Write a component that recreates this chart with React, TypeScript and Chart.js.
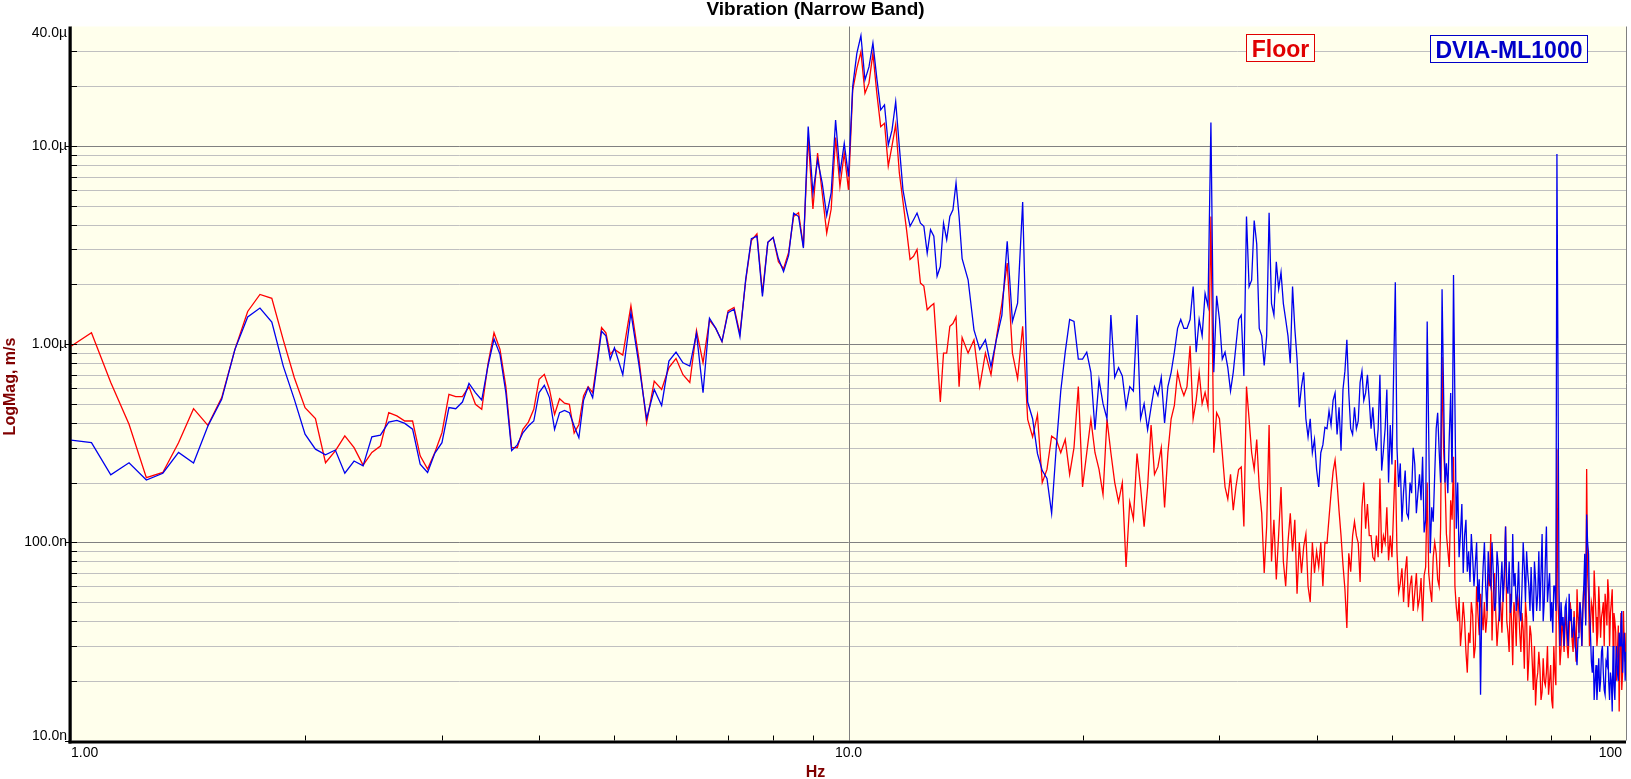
import { useEffect, useRef } from "react"
import { Chart, registerables } from "chart.js"

Chart.register(...registerables)

// FFT bin frequencies (Hz). Full 1/16 Hz resolution at the low end, thinned out higher up.
const hzA = [
  1, 1.0625, 1.125, 1.1875, 1.25, 1.3125, 1.375, 1.4375, 1.5, 1.5625, 1.625, 1.6875, 1.75, 1.8125, 1.875, 1.9375,
  2, 2.0625, 2.125, 2.1875, 2.25, 2.3125, 2.375, 2.4375, 2.5, 2.5625, 2.625, 2.6875, 2.75, 2.8125, 2.875, 2.9375,
  3, 3.0625, 3.125, 3.1875, 3.25, 3.3125, 3.375, 3.4375, 3.5, 3.5625, 3.625, 3.6875, 3.75, 3.8125, 3.875, 3.9375,
  4, 4.0625, 4.125, 4.1875, 4.25, 4.3125, 4.375, 4.4375, 4.5, 4.5625, 4.625, 4.6875, 4.75, 4.8125, 4.875, 4.9375,
  5,
]
const hzB = [
  5.125, 5.25, 5.375, 5.5, 5.625, 5.75, 5.875, 6, 6.125, 6.25, 6.375, 6.5, 6.625, 6.75, 6.875, 7,
  7.125, 7.25, 7.375, 7.5, 7.625, 7.75, 7.875, 8, 8.125, 8.25, 8.375, 8.5, 8.625, 8.75, 8.875, 9,
  9.125, 9.25, 9.375, 9.5, 9.625, 9.75, 9.875, 10,
]
const hzC = [
  10.125, 10.25, 10.375, 10.5, 10.625, 10.75, 10.875, 11, 11.125, 11.25, 11.375, 11.5, 11.625, 11.75, 11.875, 12,
  12.125, 12.25, 12.375, 12.5, 12.625, 12.75, 12.875, 13, 13.125, 13.25, 13.375, 13.5, 13.625, 13.75, 13.875, 14,
]
const hzD = [
  14.25, 14.5, 14.75, 15, 15.25, 15.5, 15.75, 16,
  16.25, 16.5, 16.75, 17, 17.25, 17.5, 17.75, 18,
  18.25, 18.5, 18.75, 19, 19.25, 19.5, 19.75, 20,
  20.25, 20.5, 20.75, 21, 21.25, 21.5, 21.75, 22,
  22.25, 22.5, 22.75, 23, 23.25, 23.5, 23.75, 24,
  24.25, 24.5, 24.75, 25, 25.25, 25.5, 25.75, 26,
  26.25, 26.5, 26.75, 27, 27.25, 27.5, 27.75, 28,
  28.25, 28.5, 28.75, 29, 29.25, 29.5, 29.75, 30,
  30.25, 30.5, 30.75, 31, 31.25, 31.5, 31.75, 32,
  32.25, 32.5, 32.75, 33, 33.25, 33.5, 33.75, 34,
  34.25, 34.5, 34.75, 35, 35.25, 35.5, 35.75, 36,
  36.25, 36.5, 36.75, 37, 37.25, 37.5, 37.75, 38,
  38.25, 38.5, 38.75, 39, 39.25, 39.5, 39.75, 40,
  40.25, 40.5, 40.75, 41, 41.25, 41.5, 41.75, 42,
  42.25, 42.5, 42.75, 43, 43.25, 43.5, 43.75, 44,
  44.25, 44.5, 44.75, 45, 45.25, 45.5, 45.75, 46,
  46.25, 46.5, 46.75, 47, 47.25, 47.5, 47.75, 48,
  48.25, 48.5, 48.75, 49, 49.25, 49.5, 49.75, 50,
]
const hzE = [
  50.5, 51, 51.5, 52, 52.5, 53, 53.5, 54, 54.5, 55,
  55.5, 56, 56.5, 57, 57.5, 58, 58.5, 59, 59.5, 60,
  60.5, 61, 61.5, 62, 62.5, 63, 63.5, 64, 64.5, 65,
  65.5, 66, 66.5, 67, 67.5, 68, 68.5, 69, 69.5, 70,
  70.5, 71, 71.5, 72, 72.5, 73, 73.5, 74, 74.5, 75,
  75.5, 76, 76.5, 77, 77.5, 78, 78.5, 79, 79.5, 80,
  80.5, 81, 81.5, 82, 82.5, 83, 83.5, 84, 84.5, 85,
  85.5, 86, 86.5, 87, 87.5, 88, 88.5, 89, 89.5, 90,
  90.5, 91, 91.5, 92, 92.5, 93, 93.5, 94, 94.5, 95,
  95.5, 96, 96.5, 97, 97.5, 98, 98.5, 99, 99.5, 100,
]
// in-between bins for the top of the band
const hzF = [
  50.75, 51.25, 51.75, 52.25, 52.75, 53.25, 53.75, 54.25, 54.75, 55.25,
  55.75, 56.25, 56.75, 57.25, 57.75, 58.25, 58.75, 59.25, 59.75, 60.25,
  60.75, 61.25, 61.75, 62.25, 62.75, 63.25, 63.75, 64.25, 64.75, 65.25,
  65.75, 66.25, 66.75, 67.25, 67.75, 68.25, 68.75, 69.25, 69.75, 70.25,
  70.75, 71.25, 71.75, 72.25, 72.75, 73.25, 73.75, 74.25, 74.75, 75.25,
  75.75, 76.25, 76.75, 77.25, 77.75, 78.25, 78.75, 79.25, 79.75, 80.25,
  80.75, 81.25, 81.75, 82.25, 82.75, 83.25, 83.75, 84.25, 84.75, 85.25,
  85.75, 86.25, 86.75, 87.25, 87.75, 88.25, 88.75, 89.25, 89.75, 90.25,
  90.75, 91.25, 91.75, 92.25, 92.75, 93.25, 93.75, 94.25, 94.75, 95.25,
  95.75, 96.25, 96.75, 97.25, 97.75, 98.25, 98.75, 99.25, 99.75,
]

// Floor magnitude, um/s
const floorA = [
  0.976, 1.14, 0.64, 0.394, 0.212, 0.225, 0.318, 0.472, 0.389, 0.537, 0.94, 1.46, 1.78, 1.7, 1.05, 0.676,
  0.478, 0.421, 0.252, 0.289, 0.344, 0.3, 0.245, 0.284, 0.306, 0.451, 0.434, 0.409, 0.409, 0.273, 0.234, 0.284,
  0.357, 0.557, 0.543, 0.543, 0.61, 0.497, 0.469, 0.79, 1.14, 0.94, 0.61, 0.3, 0.3, 0.371, 0.404, 0.469,
  0.664, 0.703, 0.59, 0.442, 0.53, 0.503, 0.497, 0.356, 0.393, 0.547, 0.61, 0.569, 0.82, 1.21, 1.14, 0.887,
  0.94,
]
const floorB = [
  0.88, 1.56, 0.845, 0.4, 0.65, 0.59, 0.76, 0.845, 0.7, 0.64, 1.17, 0.805, 1.32, 1.2, 1.03, 1.47,
  1.53, 1.13, 2.08, 3.33, 3.6, 1.81, 3.26, 3.45, 2.6, 2.4, 2.9, 4.4, 4.6, 3.1, 11.0, 4.8,
  9.2, 5.8, 3.63, 4.8, 11.0, 6.24, 9.2, 6.0,
]
const floorC = [
  19.1, 24.6, 29.8, 18.4, 20.7, 29.3, 18.4, 12.5, 13.0, 7.9, 10, 12.8, 7.3, 5.25, 3.78, 2.67,
  2.77, 3.0, 2.03, 1.96, 1.49, 1.55, 1.6, 0.9, 0.51, 0.9, 0.9, 1.23, 1.27, 1.37, 0.61, 1.08,
]
const floorD = [
  0.9, 1.05, 0.61, 0.9, 0.7, 1.08, 1.6, 2.56,
  0.9, 0.67, 1.23, 0.417, 0.34, 0.44, 0.2, 0.233,
  0.343, 0.33, 0.283, 0.33, 0.22, 0.3, 0.61, 0.19,
  0.283, 0.417, 0.283, 0.233, 0.174, 0.417, 0.283, 0.2,
  0.16, 0.2, 0.075, 0.16, 0.131, 0.28, 0.19, 0.12,
  0.19, 0.39, 0.22, 0.24, 0.3, 0.15, 0.283, 0.42,
  0.49, 0.72, 0.61, 0.55, 0.61, 0.98, 0.42, 0.52,
  0.72, 0.5, 0.57, 0.48, 4.4, 0.283, 0.45, 0.42,
  0.283, 0.19, 0.165, 0.22, 0.145, 0.19, 0.233, 0.24,
  0.12, 0.61, 0.42, 0.283, 0.233, 0.33, 0.19, 0.14,
  0.07, 0.12, 0.39, 0.08, 0.13, 0.065, 0.11, 0.19,
  0.08, 0.06, 0.1, 0.14, 0.09, 0.13, 0.055, 0.1,
  0.07, 0.095, 0.11, 0.06, 0.05, 0.1, 0.07, 0.09,
  0.075, 0.1, 0.06, 0.1, 0.099, 0.133, 0.177, 0.227,
  0.26, 0.2, 0.144, 0.108, 0.077, 0.058, 0.037, 0.088,
  0.071, 0.108, 0.127, 0.108, 0.099, 0.063, 0.15, 0.2,
  0.117, 0.156, 0.108, 0.108, 0.084, 0.081, 0.108, 0.084,
  0.21, 0.088, 0.108, 0.099, 0.15, 0.081, 0.108, 0.084,
]
const floorE = [
  0.26, 0.056, 0.074, 0.071, 0.047, 0.068, 0.056, 0.047, 0.066, 0.068,
  0.2, 0.058, 0.084, 0.088, 0.06, 0.86, 0.21, 0.091, 0.163, 0.27,
  0.047, 0.053, 0.037, 0.04, 0.022, 0.031, 0.043, 0.03, 0.044, 0.055,
  0.036, 0.035, 0.07, 0.11, 0.055, 0.044, 0.038, 0.05, 0.055, 0.12,
  0.035, 0.055, 0.024, 0.044, 0.055, 0.035, 0.044, 0.023, 0.042, 0.026,
  0.034, 0.018, 0.015, 0.022, 0.023, 0.0176, 0.02, 0.022, 0.017, 0.024,
  0.0145, 0.022, 0.295, 0.038, 0.029, 0.035, 0.038, 0.03, 0.035, 0.044,
  0.028, 0.035, 0.058, 0.035, 0.038, 0.046, 0.055, 0.234, 0.055, 0.038,
  0.047, 0.072, 0.042, 0.035, 0.046, 0.042, 0.05, 0.055, 0.038, 0.055,
  0.044, 0.058, 0.044, 0.035, 0.028, 0.014, 0.044, 0.022, 0.029, 0.035,
]
const floorF = [
  0.09, 0.062, 0.05, 0.085, 0.06, 0.045, 0.07, 0.052, 0.04, 0.075,
  0.07, 0.05, 0.1, 0.065, 0.12, 0.3, 0.11, 0.075, 0.13, 0.06,
  0.04, 0.03, 0.05, 0.028, 0.035, 0.05, 0.026, 0.06, 0.034, 0.045,
  0.05, 0.042, 0.06, 0.032, 0.07, 0.03, 0.045, 0.035, 0.065, 0.04,
  0.028, 0.04, 0.05, 0.03, 0.048, 0.028, 0.036, 0.05, 0.02, 0.038,
  0.025, 0.03, 0.02, 0.028, 0.016, 0.026, 0.019, 0.03, 0.02, 0.016,
  0.03, 0.019, 0.05, 0.024, 0.042, 0.028, 0.045, 0.026, 0.05, 0.032,
  0.045, 0.025, 0.042, 0.05, 0.03, 0.06, 0.04, 0.07, 0.03, 0.05,
  0.035, 0.055, 0.03, 0.06, 0.033, 0.045, 0.03, 0.048, 0.065, 0.03,
  0.05, 0.03, 0.04, 0.02, 0.038, 0.03, 0.018, 0.045, 0.025,
]

// DVIA-ML1000 magnitude, um/s
const dviaA = [
  0.328, 0.318, 0.219, 0.252, 0.206, 0.223, 0.284, 0.251, 0.386, 0.526, 0.94, 1.37, 1.52, 1.29, 0.774, 0.526,
  0.351, 0.295, 0.276, 0.292, 0.223, 0.257, 0.243, 0.34, 0.347, 0.404, 0.412, 0.398, 0.372, 0.248, 0.225, 0.282,
  0.318, 0.478, 0.472, 0.51, 0.633, 0.569, 0.522, 0.774, 1.06, 0.887, 0.569, 0.29, 0.31, 0.357, 0.386, 0.409,
  0.569, 0.619, 0.537, 0.371, 0.451, 0.463, 0.451, 0.386, 0.337, 0.52, 0.603, 0.537, 0.79, 1.16, 1.1, 0.836,
  0.958,
]
const dviaB = [
  0.7, 1.44, 0.79, 0.42, 0.59, 0.49, 0.82, 0.91, 0.805, 0.774, 1.13, 0.569, 1.35, 1.2, 1.03, 1.44,
  1.5, 1.09, 2.12, 3.4, 3.5, 1.74, 3.26, 3.45, 2.7, 2.32, 2.8, 4.58, 4.4, 3.05, 12.5, 5.78,
  8.5, 6.5, 4.45, 5.8, 13.5, 7.28, 10.3, 7.0,
]
const dviaC = [
  19.9, 29.3, 36, 21.5, 25, 33, 21.9, 15.2, 16.1, 10.1, 12.0, 16.7, 9.9, 6.0, 4.76, 3.93,
  4.24, 4.58, 4.07, 3.93, 2.88, 3.78, 3.5, 2.2, 2.46, 4.07, 3.36, 4.4, 4.76, 6.5, 4.4, 2.7,
]
const dviaD = [
  2.11, 1.18, 0.94, 1.05, 0.77, 1.06, 1.4, 3.3,
  1.3, 1.61, 5.2, 0.51, 0.42, 0.28, 0.23, 0.21,
  0.14, 0.3, 0.58, 0.91, 1.33, 1.3, 0.84, 0.84,
  0.91, 0.72, 0.37, 0.66, 0.5, 0.42, 1.4, 0.68,
  0.76, 0.69, 0.48, 0.61, 0.58, 1.4, 0.42, 0.5,
  0.37, 0.48, 0.61, 0.55, 0.68, 0.4, 0.61, 0.72,
  0.91, 1.2, 1.33, 1.2, 1.2, 1.33, 1.95, 0.91,
  1.33, 1.1, 1.8, 1.55, 13.1, 0.72, 1.75, 1.33,
  0.84, 0.91, 0.76, 0.58, 0.72, 0.98, 1.33, 1.4,
  0.69, 4.4, 1.95, 2.1, 4.2, 3.2, 1.2, 1.1,
  0.78, 1.1, 4.6, 1.6, 1.4, 2.6, 1.9, 2.3,
  1.6, 1.33, 1.1, 0.8, 1.95, 1.2, 0.84, 0.48,
  0.61, 0.72, 0.42, 0.34, 0.42, 0.283, 0.33, 0.233,
  0.19, 0.283, 0.31, 0.38, 0.374, 0.46, 0.39, 0.52,
  0.567, 0.35, 0.48, 0.29, 0.59, 0.73, 1.05, 0.567,
  0.374, 0.35, 0.48, 0.374, 0.41, 0.64, 0.73, 0.52,
  0.567, 0.7, 0.52, 0.374, 0.48, 0.35, 0.29, 0.374,
  0.7, 0.23, 0.29, 0.374, 0.59, 0.2, 0.39, 0.247,
]
const dviaE = [
  2.05, 0.19, 0.127, 0.23, 0.133, 0.177, 0.247, 0.177, 0.163, 0.112,
  1.3, 0.088, 0.127, 0.374, 0.29, 1.89, 0.2, 0.177, 0.567, 2.23,
  0.117, 0.084, 0.156, 0.108, 0.071, 0.063, 0.084, 0.077, 0.05, 0.017,
  0.075, 0.06, 0.09, 0.06, 0.07, 0.05, 0.075, 0.06, 0.05, 0.12,
  0.055, 0.044, 0.11, 0.07, 0.055, 0.045, 0.06, 0.075, 0.09, 0.06,
  0.075, 0.04, 0.065, 0.055, 0.045, 0.11, 0.05, 0.12, 0.06, 0.04,
  0.035, 0.06, 9.1, 0.06, 0.05, 0.042, 0.047, 0.035, 0.055, 0.046,
  0.036, 0.03, 0.024, 0.038, 0.044, 0.046, 0.0875, 0.138, 0.0875, 0.035,
  0.022, 0.016, 0.024, 0.02, 0.0176, 0.028, 0.022, 0.017, 0.024, 0.02,
  0.022, 0.014, 0.019, 0.024, 0.022, 0.035, 0.038, 0.022, 0.035, 0.028,
]
const dviaF = [
  0.3, 0.25, 0.18, 0.14, 0.2, 0.3, 0.14, 0.22, 0.27, 0.13,
  0.35, 0.15, 0.22, 0.45, 0.2, 0.6, 0.25, 0.34, 0.2, 0.5,
  0.2, 0.11, 0.07, 0.13, 0.09, 0.11, 0.06, 0.1, 0.065, 0.05,
  0.1, 0.045, 0.065, 0.1, 0.045, 0.09, 0.04, 0.08, 0.07, 0.06,
  0.08, 0.05, 0.06, 0.045, 0.08, 0.04, 0.1, 0.05, 0.07, 0.045,
  0.05, 0.08, 0.045, 0.09, 0.07, 0.04, 0.08, 0.05, 0.07, 0.05,
  0.06, 0.045, 0.8, 0.03, 0.038, 0.03, 0.05, 0.03, 0.04, 0.033,
  0.042, 0.028, 0.033, 0.05, 0.03, 0.06, 0.038, 0.1, 0.045, 0.025,
  0.03, 0.02, 0.016, 0.026, 0.02, 0.03, 0.018, 0.025, 0.03, 0.016,
  0.02, 0.03, 0.016, 0.03, 0.02, 0.03, 0.045, 0.03, 0.02,
]

const allHz = [...hzA, ...hzB, ...hzC, ...hzD, ...hzE, ...hzF]
const floorMag = [...floorA, ...floorB, ...floorC, ...floorD, ...floorE, ...floorF]
const dviaMag = [...dviaA, ...dviaB, ...dviaC, ...dviaD, ...dviaE, ...dviaF]
// bins in ascending frequency order
const order = allHz.map((_, i) => i).sort((a, b) => allHz[a] - allHz[b])

const xTicks = [1, 10, 100]
const xTickLabels = ["1.00", "10.0", "100"]
const yTicks = [40, 10, 1, 0.1, 0.01]
const yTickLabels = ["40.0µ", "10.0µ", "1.00µ", "100.0n", "10.0n"]

const FONT = "'Liberation Sans', Arial, sans-serif"
const RED = "#ff0000"
const BLUE = "#0000ee"
const AXIS_TITLE = "#800000"

const decorPlugin = {
  id: "decor",
  beforeDraw(chart: Chart) {
    const { ctx, chartArea: a } = chart
    const xs = chart.scales.x
    const ys = chart.scales.y
    ctx.save()
    ctx.fillStyle = "#ffffec"
    ctx.fillRect(a.left, a.top, a.right - a.left, a.bottom - a.top)
    ctx.lineWidth = 1
    // horizontal grid: every 1..9 step of each decade
    for (const d of [0.01, 0.1, 1, 10]) {
      for (let m = 1; m <= 9; m++) {
        const v = d * m
        if (v >= 40) break
        const py = Math.round(ys.getPixelForValue(v)) + 0.5
        ctx.strokeStyle = m === 1 ? "#808080" : "#c0c0c0"
        ctx.beginPath()
        ctx.moveTo(a.left, py)
        ctx.lineTo(a.right, py)
        ctx.stroke()
      }
    }
    // vertical grid only at the decades
    ctx.strokeStyle = "#808080"
    for (const v of xTicks) {
      const px = Math.round(xs.getPixelForValue(v)) + 0.5
      ctx.beginPath()
      ctx.moveTo(px, a.top)
      ctx.lineTo(px, a.bottom)
      ctx.stroke()
    }
    ctx.restore()
  },
  afterDraw(chart: Chart) {
    const { ctx, chartArea: a, width } = chart
    const xs = chart.scales.x
    const ys = chart.scales.y
    ctx.save()

    // axis lines
    ctx.fillStyle = "#000"
    ctx.fillRect(a.left - 2.5, a.top, 3, a.bottom - a.top + 3)
    ctx.fillRect(a.left - 2.5, a.bottom, a.right - a.left + 2.5, 3)

    // tick marks
    ctx.strokeStyle = "#000"
    ctx.lineWidth = 1
    for (const d of [0.01, 0.1, 1, 10]) {
      for (let m = 1; m <= 9; m++) {
        const v = d * m
        if (v >= 40) break
        const py = Math.round(ys.getPixelForValue(v)) + 0.5
        ctx.beginPath()
        ctx.moveTo(m === 1 ? a.left - 6 : a.left, py)
        ctx.lineTo(a.left + 6, py)
        ctx.stroke()
      }
    }
    for (const d of [1, 10]) {
      for (let m = 2; m <= 9; m++) {
        const px = Math.round(xs.getPixelForValue(d * m)) + 0.5
        ctx.beginPath()
        ctx.moveTo(px, a.bottom)
        ctx.lineTo(px, a.bottom - 5)
        ctx.stroke()
      }
    }

    // tick labels
    ctx.font = `14px ${FONT}`
    ctx.fillStyle = "#000"
    ctx.textBaseline = "middle"
    ctx.textAlign = "right"
    yTicks.forEach((v, i) => {
      const py = Math.max(a.top + 7, Math.min(a.bottom - 4, ys.getPixelForValue(v)))
      ctx.fillText(yTickLabels[i], a.left - 4, py)
    })
    xTicks.forEach((v, i) => {
      const px = xs.getPixelForValue(v)
      ctx.textAlign = i === 0 ? "left" : i === xTicks.length - 1 ? "right" : "center"
      ctx.fillText(xTickLabels[i], i === xTicks.length - 1 ? px - 4 : px, a.bottom + 13)
    })

    // title and axis titles
    ctx.textBaseline = "alphabetic"
    ctx.textAlign = "center"
    ctx.font = `bold 19px ${FONT}`
    ctx.fillText("Vibration (Narrow Band)", width / 2, 15)

    ctx.fillStyle = AXIS_TITLE
    ctx.font = `bold 16px ${FONT}`
    ctx.fillText("Hz", width / 2, 777)
    ctx.save()
    ctx.translate(15, (a.top + a.bottom) / 2 + 3)
    ctx.rotate(-Math.PI / 2)
    ctx.fillText("LogMag, m/s", 0, 0)
    ctx.restore()

    // legend boxes
    const boxes = [
      { ds: 1, x: 1246.5, y: 34.5, w: 68, h: 27, color: "#e00000" },
      { ds: 0, x: 1430.5, y: 35.5, w: 157, h: 27, color: "#0000c8" },
    ]
    ctx.font = `bold 23px ${FONT}`
    ctx.lineWidth = 1
    for (const b of boxes) {
      ctx.fillStyle = "#fffff6"
      ctx.fillRect(b.x, b.y, b.w, b.h)
      ctx.strokeStyle = b.color
      ctx.strokeRect(b.x, b.y, b.w, b.h)
      ctx.fillStyle = b.color
      ctx.fillText(String(chart.data.datasets[b.ds].label), b.x + b.w / 2, b.y + 22)
    }
    ctx.restore()
  },
}

export default function App() {
  const canvasRef = useRef<HTMLCanvasElement | null>(null)

  useEffect(() => {
    document.body.style.margin = "0"
    if (!canvasRef.current) return

    const chart = new Chart(canvasRef.current, {
      type: "line",
      data: {
        datasets: [
          {
            label: "DVIA-ML1000",
            data: order.map((i) => ({ x: allHz[i], y: dviaMag[i] })),
            borderColor: BLUE,
            borderWidth: 1.3,
            pointRadius: 0,
            tension: 0,
          },
          {
            label: "Floor",
            data: order.map((i) => ({ x: allHz[i], y: floorMag[i] })),
            borderColor: RED,
            borderWidth: 1.3,
            pointRadius: 0,
            tension: 0,
          },
        ],
      },
      options: {
        responsive: false,
        animation: false,
        events: [],
        layout: { padding: { left: 71, right: 5, top: 26.5, bottom: 38.5 } },
        scales: {
          x: { type: "logarithmic", min: 1, max: 100, display: false },
          y: { type: "logarithmic", min: 0.01, max: 40, display: false },
        },
        plugins: {
          legend: { display: false },
          tooltip: { enabled: false },
          title: { display: false },
        },
      },
      plugins: [decorPlugin],
    })

    return () => {
      chart.destroy()
    }
  }, [])

  return <canvas ref={canvasRef} width={1631} height={779} style={{ display: "block" }} />
}
